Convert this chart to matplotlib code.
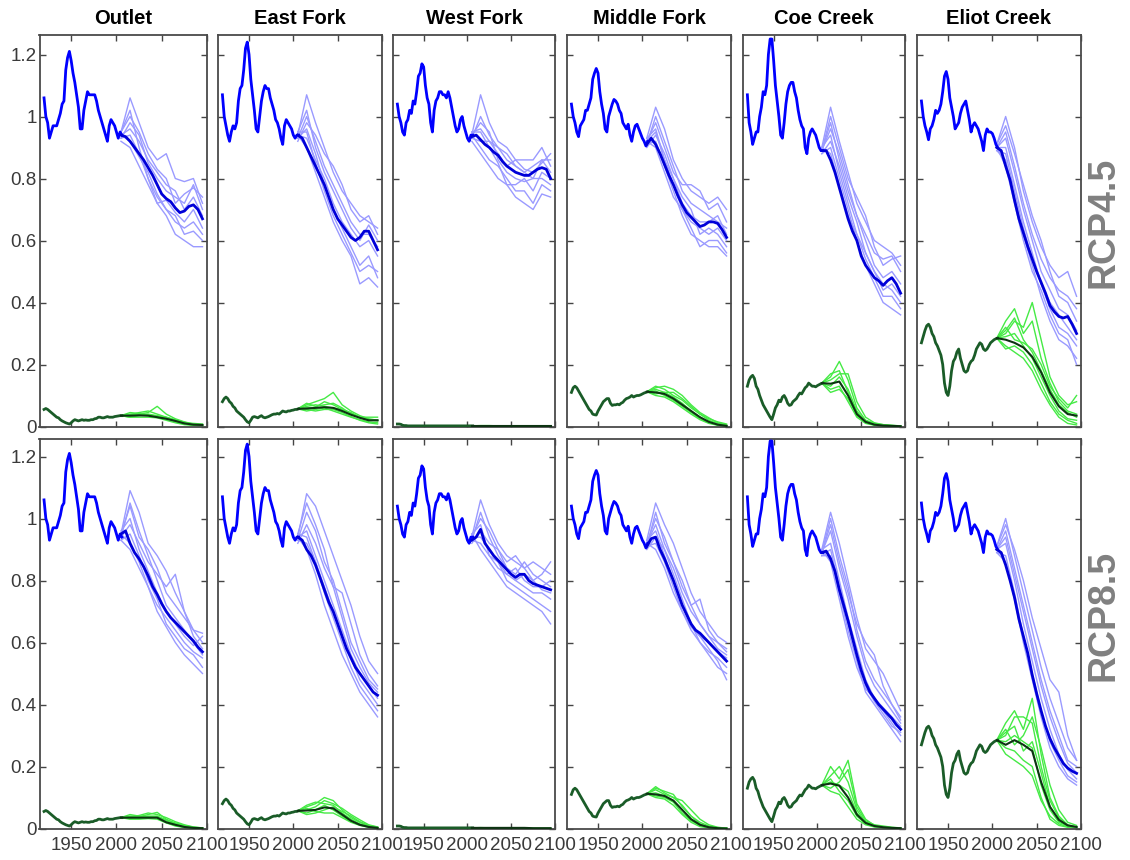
import matplotlib
matplotlib.use('Agg')
import matplotlib.pyplot as plt
from matplotlib.ticker import FuncFormatter

plt.rcParams['font.family'] = ['Liberation Sans', 'DejaVu Sans']

# ---------------- данные ----------------
site_names = ['Outlet', 'East Fork', 'West Fork', 'Middle Fork', 'Coe Creek', 'Eliot Creek']
scenarios = ['RCP4.5', 'RCP8.5']

hist_years = list(range(1920, 2007, 2))      # исторический период
mean_years = list(range(2005, 2096, 5))      # средняя по ансамблю
member_years = list(range(2005, 2096, 10))   # отдельные модели

# исторические ряды (одинаковые для обоих сценариев)
outlet_hist_blue = [1.06, 1.00, 0.98, 0.93, 0.95, 0.97, 0.97, 0.97, 0.99, 1.01,
                    1.04, 1.05, 1.15, 1.19, 1.21, 1.18, 1.14, 1.11, 1.07, 1.03,
                    0.96, 0.96, 1.02, 1.05, 1.08, 1.07, 1.07, 1.07, 1.07, 1.05,
                    1.02, 1.00, 0.98, 0.96, 0.94, 0.92, 0.97, 0.99, 0.98, 0.97,
                    0.95, 0.93, 0.95, 0.94]
eastfork_hist_blue = [1.07, 1.00, 0.97, 0.94, 0.92, 0.95, 0.97, 0.96, 0.98, 1.05,
                      1.09, 1.10, 1.15, 1.22, 1.24, 1.20, 1.12, 1.07, 1.02, 0.96,
                      0.95, 1.00, 1.05, 1.08, 1.10, 1.09, 1.09, 1.06, 1.04, 1.02,
                      0.99, 0.98, 0.96, 0.93, 0.91, 0.97, 0.99, 0.98, 0.97, 0.96,
                      0.94, 0.93, 0.94, 0.94]
westfork_hist_blue = [1.04, 1.00, 0.98, 0.95, 0.94, 0.98, 0.99, 1.02, 1.01, 1.05,
                      1.04, 1.08, 1.13, 1.14, 1.17, 1.16, 1.10, 1.06, 1.04, 0.98,
                      0.95, 1.02, 1.05, 1.06, 1.08, 1.08, 1.07, 1.07, 1.06, 1.08,
                      1.06, 1.03, 1.00, 0.97, 0.95, 0.96, 0.99, 1.00, 0.97, 0.95,
                      0.93, 0.92, 0.94, 0.94]
middlefork_hist_blue = [1.04, 1.00, 0.98, 0.95, 0.935, 0.97, 0.98, 0.99, 1.02, 1.02,
                        1.04, 1.06, 1.12, 1.14, 1.155, 1.14, 1.08, 1.04, 1.01, 0.96,
                        0.95, 1.00, 1.02, 1.04, 1.055, 1.05, 1.04, 1.02, 1.01, 0.98,
                        0.97, 0.96, 0.975, 0.94, 0.92, 0.95, 0.97, 0.975, 0.96, 0.945,
                        0.93, 0.92, 0.905, 0.92]
coe_hist_blue = [1.07, 0.98, 0.95, 0.91, 0.93, 0.95, 0.95, 1.00, 1.03, 1.08,
                 1.07, 1.10, 1.20, 1.25, 1.25, 1.18, 1.10, 1.05, 1.00, 0.94,
                 0.93, 0.98, 1.04, 1.08, 1.10, 1.11, 1.11, 1.08, 1.06, 1.02,
                 0.99, 0.97, 0.96, 0.90, 0.88, 0.93, 0.95, 0.96, 0.95, 0.94,
                 0.92, 0.90, 0.89, 0.89]
eliot_hist_blue = [1.05, 1.00, 0.97, 0.95, 0.925, 0.96, 0.97, 0.99, 1.02, 1.01,
                   1.02, 1.04, 1.08, 1.13, 1.145, 1.12, 1.06, 1.03, 1.00, 0.96,
                   0.97, 0.98, 1.01, 1.03, 1.04, 1.05, 1.02, 0.99, 0.95, 0.97,
                   0.98, 0.97, 0.96, 0.94, 0.92, 0.89, 0.94, 0.96, 0.95, 0.95,
                   0.945, 0.93, 0.91, 0.90]

outlet_hist_green = [0.055, 0.058, 0.055, 0.05, 0.045, 0.04, 0.035, 0.03, 0.028, 0.022,
                     0.018, 0.015, 0.012, 0.01, 0.008, 0.012, 0.018, 0.022, 0.02, 0.018,
                     0.02, 0.022, 0.02, 0.021, 0.02, 0.02, 0.022, 0.022, 0.025, 0.026,
                     0.03, 0.03, 0.028, 0.028, 0.03, 0.032, 0.03, 0.03, 0.03, 0.032,
                     0.033, 0.034, 0.035, 0.035]
eastfork_hist_green = [0.08, 0.09, 0.095, 0.09, 0.08, 0.075, 0.065, 0.06, 0.05, 0.045,
                       0.04, 0.035, 0.03, 0.022, 0.015, 0.012, 0.02, 0.03, 0.032, 0.03,
                       0.028, 0.032, 0.035, 0.03, 0.028, 0.03, 0.032, 0.035, 0.038, 0.04,
                       0.04, 0.042, 0.04, 0.045, 0.05, 0.048, 0.047, 0.05, 0.05, 0.052,
                       0.053, 0.055, 0.055, 0.057]
westfork_hist_green = [0.008, 0.008, 0.007, 0.004, 0.003, 0.003, 0.002, 0.002, 0.002, 0.002,
                       0.002, 0.002, 0.002, 0.002, 0.002, 0.002, 0.002, 0.002, 0.002, 0.002,
                       0.002, 0.002, 0.002, 0.002, 0.002, 0.002, 0.002, 0.002, 0.002, 0.002,
                       0.002, 0.002, 0.002, 0.002, 0.002, 0.002, 0.002, 0.002, 0.002, 0.002,
                       0.002, 0.002, 0.002, 0.002]
middlefork_hist_green = [0.11, 0.125, 0.13, 0.125, 0.115, 0.105, 0.095, 0.085, 0.075, 0.065,
                         0.055, 0.05, 0.04, 0.038, 0.037, 0.05, 0.06, 0.07, 0.08, 0.085,
                         0.09, 0.09, 0.075, 0.068, 0.07, 0.07, 0.072, 0.07, 0.075, 0.078,
                         0.085, 0.09, 0.092, 0.095, 0.1, 0.095, 0.098, 0.1, 0.1, 0.102,
                         0.105, 0.108, 0.11, 0.112]
coe_hist_green = [0.13, 0.15, 0.16, 0.165, 0.155, 0.13, 0.12, 0.1, 0.085, 0.07,
                  0.06, 0.05, 0.04, 0.03, 0.022, 0.04, 0.06, 0.07, 0.085, 0.08,
                  0.095, 0.1, 0.09, 0.075, 0.068, 0.07, 0.08, 0.085, 0.09, 0.1,
                  0.108, 0.105, 0.115, 0.125, 0.13, 0.14, 0.135, 0.13, 0.13, 0.128,
                  0.132, 0.135, 0.138, 0.14]
eliot_hist_green = [0.27, 0.29, 0.31, 0.325, 0.33, 0.32, 0.30, 0.29, 0.27, 0.26,
                    0.245, 0.23, 0.20, 0.14, 0.11, 0.10, 0.13, 0.18, 0.21, 0.22,
                    0.24, 0.25, 0.22, 0.2, 0.18, 0.175, 0.18, 0.2, 0.21, 0.215,
                    0.23, 0.25, 0.26, 0.27, 0.265, 0.25, 0.245, 0.25, 0.26, 0.27,
                    0.275, 0.28, 0.283, 0.285]

# ---- Outlet ----
outlet45_blue_mean = [0.94, 0.935, 0.92, 0.90, 0.88, 0.86, 0.835, 0.81, 0.78, 0.75,
                      0.735, 0.725, 0.705, 0.69, 0.695, 0.71, 0.715, 0.70, 0.67]
outlet45_blue_members = [
    [0.95, 1.06, 0.98, 0.90, 0.86, 0.88, 0.80, 0.79, 0.80, 0.72],
    [0.93, 0.98, 0.94, 0.85, 0.80, 0.76, 0.74, 0.72, 0.78, 0.70],
    [0.94, 0.92, 0.87, 0.82, 0.75, 0.70, 0.66, 0.64, 0.66, 0.62],
    [0.95, 1.02, 0.90, 0.80, 0.72, 0.68, 0.62, 0.60, 0.58, 0.58],
    [0.92, 0.90, 0.84, 0.78, 0.72, 0.73, 0.69, 0.66, 0.70, 0.64],
    [0.94, 0.96, 0.92, 0.86, 0.82, 0.78, 0.76, 0.70, 0.74, 0.68],
    [0.93, 0.94, 0.88, 0.80, 0.74, 0.70, 0.68, 0.62, 0.63, 0.60],
    [0.95, 1.00, 0.95, 0.88, 0.83, 0.80, 0.72, 0.75, 0.77, 0.74],
]
outlet45_green_mean = [0.035, 0.035, 0.036, 0.035, 0.03, 0.025, 0.018, 0.01, 0.006, 0.005]
outlet45_green_members = [
    [0.035, 0.04, 0.04, 0.045, 0.065, 0.04, 0.025, 0.015, 0.008, 0.005],
    [0.035, 0.03, 0.035, 0.04, 0.035, 0.03, 0.02, 0.01, 0.005, 0.003],
    [0.035, 0.045, 0.042, 0.038, 0.03, 0.025, 0.015, 0.008, 0.004, 0.002],
    [0.035, 0.03, 0.03, 0.03, 0.028, 0.02, 0.012, 0.006, 0.004, 0.003],
    [0.035, 0.038, 0.045, 0.05, 0.04, 0.03, 0.022, 0.012, 0.01, 0.008],
    [0.035, 0.033, 0.038, 0.035, 0.032, 0.028, 0.02, 0.014, 0.006, 0.004],
]
outlet85_blue_mean = [0.95, 0.96, 0.92, 0.89, 0.87, 0.845, 0.815, 0.78, 0.755, 0.725,
                      0.70, 0.68, 0.665, 0.65, 0.635, 0.62, 0.605, 0.585, 0.57]
outlet85_blue_members = [
    [0.95, 1.09, 1.02, 0.92, 0.88, 0.83, 0.76, 0.70, 0.64, 0.60],
    [0.94, 1.05, 0.96, 0.88, 0.80, 0.72, 0.68, 0.64, 0.60, 0.56],
    [0.93, 0.95, 0.88, 0.80, 0.74, 0.66, 0.62, 0.58, 0.56, 0.52],
    [0.95, 0.92, 0.86, 0.78, 0.70, 0.65, 0.60, 0.56, 0.53, 0.50],
    [0.94, 0.98, 0.92, 0.86, 0.82, 0.78, 0.82, 0.70, 0.62, 0.58],
    [0.96, 1.00, 0.90, 0.83, 0.76, 0.70, 0.66, 0.62, 0.59, 0.62],
    [0.93, 0.90, 0.84, 0.78, 0.72, 0.68, 0.64, 0.60, 0.57, 0.55],
    [0.95, 1.04, 0.94, 0.90, 0.84, 0.76, 0.72, 0.68, 0.64, 0.63],
]
outlet85_green_mean = [0.035, 0.035, 0.035, 0.035, 0.035, 0.02, 0.012, 0.005, 0.002, 0.001]
outlet85_green_members = [
    [0.035, 0.04, 0.038, 0.045, 0.052, 0.03, 0.015, 0.006, 0.003, 0.001],
    [0.035, 0.032, 0.036, 0.04, 0.04, 0.028, 0.018, 0.01, 0.004, 0.002],
    [0.035, 0.045, 0.04, 0.038, 0.035, 0.02, 0.01, 0.004, 0.002, 0.001],
    [0.035, 0.03, 0.03, 0.032, 0.03, 0.018, 0.008, 0.003, 0.001, 0.0],
    [0.035, 0.038, 0.042, 0.05, 0.045, 0.035, 0.022, 0.012, 0.005, 0.002],
    [0.035, 0.034, 0.033, 0.036, 0.038, 0.025, 0.014, 0.007, 0.003, 0.001],
]

# ---- East Fork ----
eastfork45_blue_mean = [0.94, 0.93, 0.90, 0.87, 0.84, 0.81, 0.78, 0.74, 0.70, 0.67,
                        0.65, 0.63, 0.61, 0.60, 0.61, 0.63, 0.63, 0.60, 0.57]
eastfork45_blue_members = [
    [0.94, 1.07, 0.98, 0.90, 0.82, 0.76, 0.72, 0.68, 0.66, 0.64],
    [0.93, 1.00, 0.92, 0.84, 0.78, 0.72, 0.66, 0.62, 0.62, 0.58],
    [0.95, 0.95, 0.85, 0.76, 0.68, 0.62, 0.56, 0.50, 0.52, 0.50],
    [0.94, 0.90, 0.82, 0.74, 0.66, 0.60, 0.55, 0.46, 0.48, 0.45],
    [0.92, 0.98, 0.94, 0.88, 0.84, 0.78, 0.70, 0.66, 0.68, 0.62],
    [0.94, 0.93, 0.86, 0.80, 0.72, 0.66, 0.62, 0.58, 0.60, 0.55],
    [0.95, 1.02, 0.90, 0.82, 0.76, 0.70, 0.64, 0.60, 0.65, 0.60],
    [0.93, 0.96, 0.88, 0.78, 0.70, 0.64, 0.58, 0.52, 0.55, 0.48],
]
eastfork45_green_mean = [0.057, 0.058, 0.06, 0.062, 0.06, 0.05, 0.038, 0.028, 0.02, 0.02]
eastfork45_green_members = [
    [0.057, 0.07, 0.08, 0.09, 0.11, 0.07, 0.05, 0.035, 0.025, 0.02],
    [0.057, 0.065, 0.07, 0.065, 0.06, 0.055, 0.045, 0.03, 0.022, 0.018],
    [0.057, 0.05, 0.055, 0.06, 0.05, 0.04, 0.03, 0.022, 0.015, 0.012],
    [0.057, 0.075, 0.065, 0.07, 0.075, 0.06, 0.04, 0.03, 0.02, 0.02],
    [0.057, 0.055, 0.05, 0.055, 0.055, 0.045, 0.032, 0.02, 0.012, 0.008],
    [0.057, 0.06, 0.062, 0.08, 0.07, 0.055, 0.042, 0.03, 0.03, 0.03],
]
eastfork85_blue_mean = [0.94, 0.93, 0.90, 0.88, 0.85, 0.81, 0.77, 0.73, 0.70, 0.66,
                        0.62, 0.58, 0.55, 0.52, 0.50, 0.48, 0.46, 0.44, 0.43]
eastfork85_blue_members = [
    [0.94, 1.08, 1.04, 0.96, 0.88, 0.80, 0.72, 0.62, 0.54, 0.50],
    [0.93, 1.02, 0.96, 0.86, 0.80, 0.70, 0.60, 0.54, 0.48, 0.45],
    [0.95, 0.94, 0.86, 0.76, 0.68, 0.60, 0.52, 0.46, 0.42, 0.38],
    [0.94, 0.90, 0.82, 0.72, 0.64, 0.56, 0.50, 0.44, 0.40, 0.36],
    [0.92, 0.98, 0.92, 0.84, 0.78, 0.76, 0.66, 0.56, 0.50, 0.46],
    [0.94, 0.96, 0.88, 0.80, 0.72, 0.64, 0.56, 0.50, 0.46, 0.42],
    [0.95, 1.05, 0.98, 0.90, 0.78, 0.68, 0.58, 0.52, 0.47, 0.44],
    [0.93, 0.92, 0.86, 0.78, 0.70, 0.62, 0.55, 0.48, 0.44, 0.40],
]
eastfork85_green_mean = [0.057, 0.058, 0.06, 0.068, 0.065, 0.045, 0.025, 0.012, 0.005, 0.002]
eastfork85_green_members = [
    [0.057, 0.07, 0.08, 0.1, 0.09, 0.06, 0.035, 0.02, 0.008, 0.003],
    [0.057, 0.045, 0.05, 0.06, 0.07, 0.055, 0.04, 0.022, 0.01, 0.004],
    [0.057, 0.065, 0.055, 0.05, 0.05, 0.035, 0.02, 0.01, 0.004, 0.001],
    [0.057, 0.075, 0.085, 0.08, 0.075, 0.05, 0.03, 0.015, 0.006, 0.002],
    [0.057, 0.05, 0.06, 0.075, 0.06, 0.04, 0.022, 0.012, 0.005, 0.002],
    [0.057, 0.06, 0.07, 0.09, 0.08, 0.065, 0.045, 0.028, 0.012, 0.005],
]

# ---- West Fork ----
westfork45_blue_mean = [0.935, 0.94, 0.925, 0.91, 0.90, 0.885, 0.875, 0.855, 0.84, 0.83,
                        0.82, 0.815, 0.81, 0.81, 0.82, 0.83, 0.835, 0.83, 0.80]
westfork45_blue_members = [
    [0.94, 1.07, 0.98, 0.92, 0.90, 0.86, 0.86, 0.86, 0.90, 0.84],
    [0.93, 1.00, 0.94, 0.90, 0.86, 0.84, 0.82, 0.80, 0.86, 0.82],
    [0.94, 0.90, 0.86, 0.84, 0.80, 0.76, 0.76, 0.72, 0.78, 0.76],
    [0.95, 0.95, 0.90, 0.85, 0.78, 0.74, 0.72, 0.70, 0.75, 0.74],
    [0.93, 0.92, 0.92, 0.88, 0.84, 0.86, 0.83, 0.82, 0.85, 0.88],
    [0.94, 0.98, 0.95, 0.86, 0.82, 0.80, 0.79, 0.80, 0.80, 0.78],
    [0.92, 0.88, 0.84, 0.80, 0.78, 0.78, 0.80, 0.76, 0.82, 0.80],
    [0.95, 0.96, 0.92, 0.90, 0.88, 0.84, 0.82, 0.84, 0.86, 0.86],
]
westfork45_green_mean = [0.002, 0.002, 0.002, 0.002, 0.002, 0.002, 0.002, 0.002, 0.002, 0.002]
westfork45_green_members = [
    [0.002, 0.003, 0.003, 0.002, 0.002, 0.002, 0.001, 0.001, 0.001, 0.001],
    [0.002, 0.002, 0.002, 0.002, 0.001, 0.001, 0.001, 0.001, 0.001, 0.001],
]
westfork85_blue_mean = [0.93, 0.94, 0.965, 0.92, 0.90, 0.88, 0.865, 0.85, 0.835, 0.82,
                        0.81, 0.82, 0.82, 0.80, 0.79, 0.785, 0.78, 0.775, 0.77]
westfork85_blue_members = [
    [0.94, 1.06, 0.98, 0.92, 0.88, 0.86, 0.84, 0.86, 0.84, 0.82],
    [0.93, 1.02, 0.94, 0.88, 0.84, 0.82, 0.86, 0.82, 0.80, 0.78],
    [0.95, 0.90, 0.86, 0.82, 0.78, 0.76, 0.74, 0.72, 0.70, 0.66],
    [0.94, 0.94, 0.90, 0.86, 0.80, 0.78, 0.76, 0.74, 0.72, 0.70],
    [0.92, 0.96, 0.92, 0.90, 0.86, 0.88, 0.84, 0.80, 0.82, 0.86],
    [0.95, 0.98, 0.88, 0.84, 0.82, 0.80, 0.78, 0.76, 0.76, 0.74],
    [0.93, 0.92, 0.88, 0.86, 0.82, 0.84, 0.80, 0.78, 0.78, 0.80],
    [0.94, 1.00, 0.96, 0.90, 0.84, 0.80, 0.82, 0.80, 0.77, 0.76],
]
westfork85_green_mean = [0.002, 0.002, 0.002, 0.002, 0.002, 0.002, 0.002, 0.001, 0.001, 0.001]
westfork85_green_members = [
    [0.002, 0.003, 0.002, 0.002, 0.002, 0.001, 0.001, 0.001, 0.001, 0.001],
    [0.002, 0.002, 0.002, 0.002, 0.001, 0.001, 0.001, 0.0, 0.0, 0.0],
]

# ---- Middle Fork ----
middlefork45_blue_mean = [0.91, 0.93, 0.91, 0.88, 0.845, 0.81, 0.78, 0.745, 0.715, 0.69,
                          0.675, 0.66, 0.645, 0.65, 0.66, 0.66, 0.655, 0.635, 0.61]
middlefork45_blue_members = [
    [0.93, 1.03, 0.96, 0.86, 0.80, 0.76, 0.74, 0.72, 0.74, 0.70],
    [0.92, 0.98, 0.90, 0.82, 0.78, 0.78, 0.76, 0.70, 0.72, 0.66],
    [0.91, 0.92, 0.84, 0.76, 0.68, 0.62, 0.60, 0.58, 0.58, 0.55],
    [0.93, 0.96, 0.86, 0.78, 0.70, 0.64, 0.58, 0.60, 0.60, 0.56],
    [0.90, 0.94, 0.88, 0.80, 0.72, 0.68, 0.66, 0.66, 0.68, 0.62],
    [0.92, 0.90, 0.82, 0.74, 0.70, 0.66, 0.64, 0.62, 0.64, 0.60],
    [0.91, 1.00, 0.92, 0.84, 0.76, 0.72, 0.70, 0.68, 0.66, 0.64],
    [0.92, 0.95, 0.86, 0.80, 0.74, 0.70, 0.62, 0.64, 0.62, 0.58],
]
middlefork45_green_mean = [0.112, 0.11, 0.105, 0.09, 0.07, 0.05, 0.03, 0.015, 0.006, 0.002]
middlefork45_green_members = [
    [0.112, 0.13, 0.12, 0.1, 0.085, 0.06, 0.04, 0.02, 0.01, 0.004],
    [0.112, 0.125, 0.13, 0.12, 0.1, 0.07, 0.045, 0.028, 0.012, 0.005],
    [0.112, 0.1, 0.095, 0.08, 0.06, 0.04, 0.022, 0.01, 0.004, 0.001],
    [0.112, 0.12, 0.11, 0.095, 0.075, 0.05, 0.03, 0.015, 0.006, 0.002],
    [0.112, 0.105, 0.11, 0.11, 0.09, 0.065, 0.04, 0.025, 0.015, 0.008],
    [0.112, 0.115, 0.1, 0.085, 0.065, 0.045, 0.025, 0.012, 0.005, 0.002],
]
middlefork85_blue_mean = [0.91, 0.935, 0.94, 0.90, 0.87, 0.835, 0.80, 0.76, 0.72, 0.69,
                          0.66, 0.64, 0.63, 0.615, 0.60, 0.585, 0.57, 0.555, 0.54]
middlefork85_blue_members = [
    [0.93, 1.05, 0.98, 0.92, 0.84, 0.76, 0.70, 0.66, 0.62, 0.60],
    [0.92, 1.00, 0.94, 0.86, 0.78, 0.72, 0.74, 0.64, 0.60, 0.58],
    [0.91, 0.92, 0.86, 0.78, 0.70, 0.64, 0.60, 0.56, 0.52, 0.50],
    [0.93, 0.96, 0.88, 0.80, 0.72, 0.66, 0.62, 0.58, 0.54, 0.48],
    [0.90, 0.94, 0.90, 0.84, 0.76, 0.70, 0.66, 0.62, 0.58, 0.56],
    [0.92, 0.98, 0.90, 0.82, 0.74, 0.66, 0.60, 0.57, 0.55, 0.52],
    [0.91, 1.02, 0.92, 0.86, 0.80, 0.72, 0.66, 0.62, 0.60, 0.57],
    [0.92, 0.90, 0.84, 0.76, 0.70, 0.65, 0.62, 0.60, 0.57, 0.55],
]
middlefork85_green_mean = [0.112, 0.11, 0.105, 0.09, 0.06, 0.03, 0.012, 0.004, 0.001, 0.0]
middlefork85_green_members = [
    [0.112, 0.13, 0.12, 0.11, 0.07, 0.04, 0.015, 0.005, 0.002, 0.0],
    [0.112, 0.125, 0.11, 0.1, 0.09, 0.06, 0.03, 0.012, 0.004, 0.001],
    [0.112, 0.1, 0.095, 0.075, 0.045, 0.02, 0.006, 0.002, 0.0, 0.0],
    [0.112, 0.115, 0.105, 0.09, 0.06, 0.03, 0.012, 0.004, 0.001, 0.0],
    [0.112, 0.135, 0.115, 0.1, 0.075, 0.04, 0.02, 0.008, 0.003, 0.001],
    [0.112, 0.105, 0.1, 0.085, 0.05, 0.025, 0.01, 0.003, 0.001, 0.0],
]

# ---- Coe Creek ----
coe45_blue_mean = [0.89, 0.89, 0.86, 0.82, 0.77, 0.72, 0.67, 0.63, 0.60, 0.55,
                   0.52, 0.50, 0.48, 0.47, 0.455, 0.47, 0.48, 0.46, 0.43]
coe45_blue_members = [
    [0.90, 1.03, 0.92, 0.82, 0.72, 0.66, 0.60, 0.58, 0.56, 0.52],
    [0.89, 0.98, 0.86, 0.76, 0.68, 0.62, 0.56, 0.54, 0.55, 0.50],
    [0.88, 0.90, 0.80, 0.70, 0.60, 0.52, 0.46, 0.40, 0.38, 0.36],
    [0.90, 0.94, 0.82, 0.72, 0.62, 0.54, 0.48, 0.42, 0.42, 0.38],
    [0.89, 1.00, 0.90, 0.80, 0.74, 0.68, 0.58, 0.52, 0.54, 0.55],
    [0.88, 0.92, 0.84, 0.74, 0.66, 0.56, 0.50, 0.44, 0.46, 0.42],
    [0.89, 0.96, 0.88, 0.78, 0.68, 0.60, 0.52, 0.48, 0.50, 0.46],
    [0.90, 0.88, 0.78, 0.68, 0.62, 0.56, 0.50, 0.46, 0.44, 0.40],
]
coe45_green_mean = [0.14, 0.138, 0.145, 0.1, 0.04, 0.015, 0.006, 0.003, 0.002, 0.001]
coe45_green_members = [
    [0.14, 0.16, 0.21, 0.15, 0.06, 0.02, 0.008, 0.004, 0.002, 0.001],
    [0.14, 0.15, 0.17, 0.17, 0.08, 0.03, 0.012, 0.006, 0.003, 0.002],
    [0.14, 0.12, 0.13, 0.08, 0.03, 0.01, 0.004, 0.002, 0.001, 0.0],
    [0.14, 0.13, 0.16, 0.12, 0.05, 0.015, 0.006, 0.003, 0.002, 0.001],
    [0.14, 0.17, 0.18, 0.11, 0.045, 0.02, 0.01, 0.006, 0.004, 0.002],
    [0.14, 0.11, 0.12, 0.09, 0.035, 0.012, 0.005, 0.002, 0.001, 0.0],
]
coe85_blue_mean = [0.89, 0.895, 0.87, 0.83, 0.77, 0.72, 0.67, 0.615, 0.56, 0.51,
                   0.47, 0.44, 0.42, 0.40, 0.385, 0.37, 0.355, 0.335, 0.32]
coe85_blue_members = [
    [0.90, 1.02, 0.92, 0.80, 0.68, 0.58, 0.54, 0.50, 0.44, 0.38],
    [0.89, 0.98, 0.86, 0.76, 0.66, 0.60, 0.56, 0.46, 0.40, 0.36],
    [0.88, 0.88, 0.76, 0.64, 0.54, 0.44, 0.40, 0.36, 0.32, 0.28],
    [0.90, 0.92, 0.80, 0.68, 0.58, 0.48, 0.42, 0.38, 0.34, 0.30],
    [0.89, 0.96, 0.84, 0.74, 0.62, 0.52, 0.46, 0.42, 0.38, 0.34],
    [0.88, 0.90, 0.78, 0.66, 0.56, 0.46, 0.41, 0.37, 0.33, 0.31],
    [0.89, 1.00, 0.88, 0.78, 0.64, 0.54, 0.48, 0.44, 0.40, 0.35],
    [0.90, 0.86, 0.74, 0.62, 0.52, 0.45, 0.42, 0.39, 0.36, 0.33],
]
coe85_green_mean = [0.14, 0.145, 0.138, 0.1, 0.045, 0.018, 0.008, 0.004, 0.002, 0.001]
coe85_green_members = [
    [0.14, 0.2, 0.16, 0.22, 0.08, 0.03, 0.01, 0.005, 0.002, 0.001],
    [0.14, 0.17, 0.2, 0.15, 0.06, 0.02, 0.008, 0.004, 0.002, 0.001],
    [0.14, 0.12, 0.11, 0.07, 0.03, 0.012, 0.005, 0.002, 0.001, 0.0],
    [0.14, 0.15, 0.14, 0.12, 0.05, 0.02, 0.01, 0.006, 0.003, 0.002],
    [0.14, 0.13, 0.15, 0.19, 0.07, 0.025, 0.012, 0.008, 0.004, 0.002],
    [0.14, 0.16, 0.12, 0.09, 0.04, 0.015, 0.006, 0.003, 0.001, 0.0],
]

# ---- Eliot Creek ----
eliot45_blue_mean = [0.90, 0.89, 0.84, 0.795, 0.73, 0.67, 0.625, 0.58, 0.54, 0.50,
                     0.465, 0.43, 0.39, 0.37, 0.355, 0.35, 0.355, 0.33, 0.30]
eliot45_blue_members = [
    [0.91, 1.00, 0.90, 0.76, 0.66, 0.58, 0.52, 0.48, 0.50, 0.42],
    [0.90, 0.95, 0.84, 0.72, 0.62, 0.54, 0.48, 0.44, 0.42, 0.38],
    [0.89, 0.86, 0.74, 0.62, 0.52, 0.42, 0.34, 0.28, 0.26, 0.22],
    [0.90, 0.90, 0.78, 0.66, 0.56, 0.46, 0.38, 0.32, 0.30, 0.26],
    [0.91, 0.97, 0.88, 0.78, 0.68, 0.60, 0.50, 0.42, 0.40, 0.34],
    [0.89, 0.88, 0.76, 0.64, 0.54, 0.46, 0.40, 0.36, 0.32, 0.28],
    [0.90, 0.93, 0.82, 0.70, 0.60, 0.50, 0.44, 0.38, 0.36, 0.31],
    [0.90, 0.84, 0.72, 0.60, 0.50, 0.44, 0.36, 0.30, 0.28, 0.20],
]
eliot45_green_mean = [0.285, 0.28, 0.27, 0.255, 0.225, 0.175, 0.11, 0.065, 0.04, 0.035]
eliot45_green_members = [
    [0.285, 0.34, 0.38, 0.30, 0.34, 0.22, 0.14, 0.08, 0.05, 0.04],
    [0.285, 0.30, 0.34, 0.32, 0.40, 0.28, 0.16, 0.10, 0.07, 0.08],
    [0.285, 0.26, 0.24, 0.22, 0.18, 0.12, 0.07, 0.03, 0.01, 0.005],
    [0.285, 0.29, 0.30, 0.26, 0.22, 0.16, 0.10, 0.05, 0.025, 0.02],
    [0.285, 0.32, 0.28, 0.27, 0.25, 0.20, 0.13, 0.09, 0.06, 0.10],
    [0.285, 0.25, 0.26, 0.24, 0.20, 0.14, 0.08, 0.04, 0.02, 0.01],
    [0.285, 0.31, 0.35, 0.28, 0.24, 0.18, 0.12, 0.07, 0.045, 0.03],
]
eliot85_blue_mean = [0.90, 0.89, 0.85, 0.80, 0.745, 0.675, 0.62, 0.565, 0.495, 0.435,
                     0.38, 0.33, 0.29, 0.26, 0.235, 0.21, 0.195, 0.185, 0.178]
eliot85_blue_members = [
    [0.91, 1.00, 0.88, 0.76, 0.64, 0.52, 0.42, 0.34, 0.26, 0.22],
    [0.90, 0.96, 0.84, 0.72, 0.60, 0.48, 0.38, 0.30, 0.22, 0.20],
    [0.89, 0.88, 0.76, 0.62, 0.50, 0.38, 0.28, 0.22, 0.17, 0.15],
    [0.90, 0.92, 0.80, 0.66, 0.54, 0.42, 0.32, 0.24, 0.19, 0.16],
    [0.91, 0.98, 0.90, 0.80, 0.68, 0.58, 0.48, 0.44, 0.30, 0.22],
    [0.89, 0.86, 0.74, 0.60, 0.48, 0.36, 0.26, 0.20, 0.16, 0.14],
    [0.90, 0.94, 0.82, 0.70, 0.58, 0.46, 0.36, 0.28, 0.21, 0.18],
]
eliot85_green_mean = [0.285, 0.27, 0.285, 0.27, 0.25, 0.15, 0.07, 0.028, 0.01, 0.005]
eliot85_green_members = [
    [0.285, 0.34, 0.38, 0.32, 0.42, 0.24, 0.10, 0.04, 0.012, 0.005],
    [0.285, 0.30, 0.36, 0.36, 0.34, 0.20, 0.09, 0.035, 0.01, 0.004],
    [0.285, 0.24, 0.22, 0.20, 0.17, 0.09, 0.04, 0.015, 0.005, 0.002],
    [0.285, 0.28, 0.30, 0.28, 0.26, 0.14, 0.06, 0.02, 0.008, 0.004],
    [0.285, 0.32, 0.27, 0.30, 0.36, 0.26, 0.14, 0.06, 0.02, 0.01],
    [0.285, 0.26, 0.25, 0.22, 0.20, 0.10, 0.03, 0.01, 0.004, 0.002],
    [0.285, 0.31, 0.33, 0.25, 0.28, 0.18, 0.07, 0.025, 0.008, 0.003],
]

# таблица для цикла
hist_blue = [outlet_hist_blue, eastfork_hist_blue, westfork_hist_blue,
             middlefork_hist_blue, coe_hist_blue, eliot_hist_blue]
hist_green = [outlet_hist_green, eastfork_hist_green, westfork_hist_green,
              middlefork_hist_green, coe_hist_green, eliot_hist_green]
proj = [
    [(outlet45_blue_mean, outlet45_blue_members, outlet45_green_mean, outlet45_green_members),
     (eastfork45_blue_mean, eastfork45_blue_members, eastfork45_green_mean, eastfork45_green_members),
     (westfork45_blue_mean, westfork45_blue_members, westfork45_green_mean, westfork45_green_members),
     (middlefork45_blue_mean, middlefork45_blue_members, middlefork45_green_mean, middlefork45_green_members),
     (coe45_blue_mean, coe45_blue_members, coe45_green_mean, coe45_green_members),
     (eliot45_blue_mean, eliot45_blue_members, eliot45_green_mean, eliot45_green_members)],
    [(outlet85_blue_mean, outlet85_blue_members, outlet85_green_mean, outlet85_green_members),
     (eastfork85_blue_mean, eastfork85_blue_members, eastfork85_green_mean, eastfork85_green_members),
     (westfork85_blue_mean, westfork85_blue_members, westfork85_green_mean, westfork85_green_members),
     (middlefork85_blue_mean, middlefork85_blue_members, middlefork85_green_mean, middlefork85_green_members),
     (coe85_blue_mean, coe85_blue_members, coe85_green_mean, coe85_green_members),
     (eliot85_blue_mean, eliot85_blue_members, eliot85_green_mean, eliot85_green_members)],
]

# ---------------- оформление ----------------
BLUE_HIST = '#0000ff'
BLUE_MEAN = '#0000d8'
BLUE_ENS = '#9a9aff'
GREEN_HIST = '#1a5c28'
GREEN_ENS = '#45ea45'
GREEN_MEAN = '#0d3312'
TICK_COLOR = '#3a3a3a'

W, H = 1130, 860
lefts = [39.5, 218, 393, 567, 743, 917]
widths = [167.5, 164, 162, 164, 162, 164]
rows = [(34.5, 426.5), (439, 828.5)]
px_per_unit = 310.0

fig = plt.figure(figsize=(W / 100, H / 100), dpi=100)

for r, (top, bot) in enumerate(rows):
    for c in range(6):
        ax = fig.add_axes([lefts[c] / W, 1 - bot / H, widths[c] / W, (bot - top) / H])
        b_mean, b_members, g_mean, g_members = proj[r][c]

        for m in b_members:
            ax.plot(member_years, m, color=BLUE_ENS, lw=1.0, zorder=2)
        for m in g_members:
            ax.plot(member_years, m, color=GREEN_ENS, lw=1.0, zorder=2)
        ax.plot(hist_years, hist_blue[c], color=BLUE_HIST, lw=2.0, zorder=4)
        ax.plot(mean_years, b_mean, color=BLUE_MEAN, lw=2.0, zorder=4)
        ax.plot(hist_years, hist_green[c], color=GREEN_HIST, lw=2.0, zorder=4)
        ax.plot(member_years, g_mean, color=GREEN_MEAN, lw=1.5, zorder=4)

        ax.set_xlim(1915, 2100)
        ax.set_ylim(0, (bot - top) / px_per_unit)
        ax.set_xticks([1950, 2000, 2050, 2100])
        ax.set_yticks([0, 0.2, 0.4, 0.6, 0.8, 1.0, 1.2])
        ax.yaxis.set_major_formatter(FuncFormatter(lambda v, p: '%g' % round(v, 1)))
        ax.tick_params(direction='in', length=4.5, width=1, top=True, right=True,
                       colors='#444444', labelcolor=TICK_COLOR, labelsize=13.5)
        ax.tick_params(axis='x', pad=6)
        ax.tick_params(axis='y', pad=2)
        if c != 0:
            ax.set_yticklabels([])
        if r == 0:
            ax.set_xticklabels([])
            ax.set_title(site_names[c], fontsize=14.5, fontweight='bold', pad=7.5)
        for s in ax.spines.values():
            s.set_color('#4a4a4a')
            s.set_linewidth(1.3)

fig.text(1104 / W, 1 - 222 / H, scenarios[0], rotation=90, fontsize=27,
         fontweight='bold', color='#808080', ha='center', va='center')
fig.text(1104 / W, 1 - 615 / H, scenarios[1], rotation=90, fontsize=27,
         fontweight='bold', color='#808080', ha='center', va='center')

fig.savefig('out.png', dpi=100)
